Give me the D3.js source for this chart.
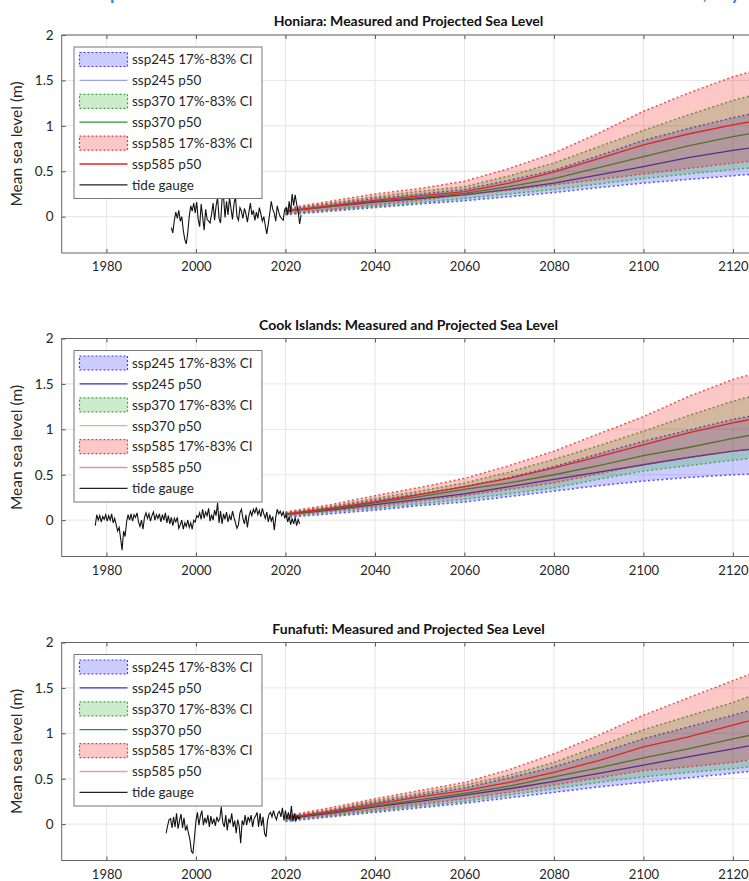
<!DOCTYPE html>
<html><head><meta charset="utf-8">
<script src="https://cdn.jsdelivr.net/npm/d3@7"></script>
<style>body{margin:0;overflow:hidden;background:#fff}</style>
</head><body>
<svg id="c" width="749" height="881"></svg>
<script>
// ---------------- DATA ----------------
const titles = ["Honiara: Measured and Projected Sea Level",
                "Cook Islands: Measured and Projected Sea Level",
                "Funafuti: Measured and Projected Sea Level"];
const headerText = "Sea level past records and future rise at three island locations, by";
const legendLabels = ["ssp245 17%-83% CI","ssp245 p50","ssp370 17%-83% CI","ssp370 p50",
                      "ssp585 17%-83% CI","ssp585 p50","tide gauge"];
const xTickValues = [1980,2000,2020,2040,2060,2080,2100,2120];
const yTickValues = [0,0.5,1,1.5,2];
const yTickLabels = ["0","0.5","1","1.5","2"];
const yAxisLabel = "Mean sea level (m)";

const projYears = [2020,2030,2040,2050,2060,2070,2080,2090,2100,2110,2120,2130];

// Honiara
const hon245lo  = [0.02,0.06,0.10,0.14,0.175,0.22,0.265,0.32,0.37,0.41,0.45,0.49];
const hon245p50 = [0.06,0.11,0.16,0.20,0.24,0.30,0.37,0.46,0.55,0.65,0.73,0.80];
const hon245hi  = [0.08,0.14,0.20,0.25,0.30,0.40,0.51,0.67,0.84,0.97,1.09,1.19];
const hon370lo  = [0.03,0.07,0.11,0.155,0.20,0.25,0.30,0.36,0.42,0.47,0.52,0.56];
const hon370p50 = [0.06,0.11,0.17,0.21,0.256,0.33,0.42,0.54,0.66,0.78,0.88,0.97];
const hon370hi  = [0.08,0.15,0.22,0.28,0.33,0.45,0.59,0.77,0.95,1.12,1.28,1.41];
const hon585lo  = [0.04,0.08,0.13,0.18,0.24,0.29,0.35,0.41,0.47,0.53,0.59,0.64];
const hon585p50 = [0.06,0.12,0.18,0.23,0.275,0.37,0.49,0.64,0.79,0.91,1.01,1.10];
const hon585hi  = [0.09,0.17,0.25,0.31,0.39,0.53,0.70,0.92,1.16,1.36,1.54,1.68];

// Cook Islands
const cook245lo  = [0.03,0.07,0.11,0.16,0.20,0.26,0.32,0.38,0.43,0.47,0.50,0.52];
const cook245p50 = [0.06,0.11,0.17,0.23,0.29,0.37,0.45,0.53,0.61,0.69,0.76,0.81];
const cook245hi  = [0.08,0.14,0.22,0.29,0.37,0.47,0.59,0.73,0.87,0.99,1.11,1.20];
const cook370lo  = [0.04,0.09,0.13,0.18,0.23,0.29,0.355,0.45,0.54,0.60,0.66,0.71];
const cook370p50 = [0.06,0.12,0.19,0.26,0.34,0.41,0.50,0.60,0.71,0.80,0.90,0.99];
const cook370hi  = [0.08,0.15,0.24,0.32,0.41,0.53,0.67,0.82,0.98,1.15,1.31,1.44];
const cook585lo  = [0.05,0.10,0.15,0.21,0.27,0.34,0.41,0.51,0.61,0.69,0.76,0.82];
const cook585p50 = [0.07,0.13,0.20,0.28,0.37,0.46,0.575,0.70,0.83,0.96,1.07,1.17];
const cook585hi  = [0.09,0.17,0.27,0.36,0.46,0.60,0.76,0.95,1.14,1.36,1.55,1.68];

// Funafuti
const fun245lo  = [0.03,0.08,0.13,0.18,0.23,0.29,0.35,0.41,0.46,0.51,0.56,0.62];
const fun245p50 = [0.06,0.12,0.19,0.25,0.32,0.39,0.47,0.56,0.65,0.74,0.83,0.92];
const fun245hi  = [0.08,0.15,0.24,0.32,0.40,0.51,0.63,0.78,0.94,1.07,1.20,1.34];
const fun370lo  = [0.04,0.09,0.14,0.20,0.25,0.32,0.39,0.46,0.52,0.57,0.61,0.67];
const fun370p50 = [0.07,0.13,0.20,0.27,0.34,0.42,0.52,0.62,0.73,0.83,0.94,1.04];
const fun370hi  = [0.08,0.16,0.26,0.34,0.43,0.54,0.68,0.86,1.04,1.19,1.34,1.52];
const fun585lo  = [0.05,0.10,0.16,0.22,0.28,0.35,0.43,0.51,0.59,0.63,0.68,0.75];
const fun585p50 = [0.07,0.14,0.22,0.30,0.37,0.46,0.57,0.70,0.85,0.96,1.09,1.22];
const fun585hi  = [0.09,0.18,0.28,0.37,0.46,0.60,0.775,0.98,1.20,1.39,1.58,1.77];

// Tide gauges (one value every 4 months)
const tideStep = 1/3;
const honTideStart = 1994.5;
const honTide = [-0.12,-0.18,-0.04,0.05,-0.02,0.07, -0.05,0.00,-0.15,-0.25,-0.30,-0.18,
  0.00,0.12,0.06,0.15,0.04,0.16, -0.03,-0.11,0.14,0.00,-0.15,0.08,
  -0.03,-0.05,-0.07,0.03,0.15,-0.04, 0.12,0.21,-0.02,-0.07,0.19,0.22,
  -0.01,0.17,0.02,0.21,0.09,-0.03, 0.14,0.22,0.00,-0.04,0.10,0.06,
  -0.02,0.09,0.03,-0.06,0.05,0.15, 0.02,0.07,-0.04,0.05,-0.02,0.10,
  0.03,-0.05,0.00,-0.10,-0.19,-0.08, 0.04,0.17,0.08,0.04,-0.05,0.12,
  0.05,0.00,-0.02,-0.04,0.08,0.10, 0.02,0.17,0.05,0.25,0.12,0.24,
  0.14,0.06,-0.08,0.02];
const cookTideStart = 1977.5;
const cookTide = [-0.06,0.06,0.00, 0.05,-0.02,0.04, 0.01,0.06,-0.01, 0.05,0.00,0.07,
  -0.03,0.02,-0.05, -0.12,-0.08,-0.20, -0.33,-0.12,-0.18, -0.02,0.06,0.00,
  0.07,-0.01,0.06, 0.03,0.08,-0.02, -0.07,0.00,-0.10, 0.03,0.08,0.02,
  0.07,-0.01,0.05, 0.09,0.00,0.06, 0.02,0.07,-0.02, 0.06,0.00,0.08,
  -0.03,0.05,-0.04, 0.03,-0.06,0.02, -0.02,0.03,-0.09, -0.05,0.00,-0.10,
  -0.03,-0.07,0.00, -0.08,-0.03,-0.10, 0.00,-0.02,0.05, 0.03,0.08,0.01,
  0.12,0.02,0.09, 0.05,0.13,-0.01, 0.06,0.00,0.11, 0.05,0.19,-0.03,
  0.10,-0.04,0.07, 0.01,0.09,-0.02, 0.05,0.00,0.10, 0.03,-0.03,-0.09,
  -0.05,0.08,0.12, 0.02,-0.04,0.06, -0.08,0.04,0.10, 0.05,0.12,0.08,
  0.14,0.06,0.11, 0.04,0.13,0.07, 0.02,0.09,-0.02, 0.06,-0.01,0.04,
  -0.11,0.03,0.12, 0.07,0.10,0.05, 0.09,0.03,0.06, -0.02,0.04,-0.05,
  0.02,-0.04,0.03, -0.06,0.01,-0.04];
const funTideStart = 1993.33;
const funTide = [-0.10,-0.02,0.05, 0.06,-0.04,0.08, -0.03,0.12,-0.05, 0.04,0.11,-0.04,
  0.07,-0.07,-0.02, -0.10,-0.17,-0.30, -0.32,-0.15,0.03, 0.13,-0.01,0.09,
  0.15,-0.01,0.07, 0.01,0.10,-0.03, 0.09,0.00,0.06, -0.02,0.08,0.03,
  0.06,0.19,0.02, -0.03,0.10,-0.07, 0.06,0.01,0.12, -0.03,0.04,-0.10,
  0.05,-0.02,-0.21, 0.04,-0.01,0.10, -0.01,0.08,0.03, 0.10,-0.03,0.06,
  0.09,0.13,-0.03, 0.12,-0.02,0.08, -0.10,-0.14,0.04, 0.11,0.13,0.08,
  0.15,0.09,0.05, 0.12,0.14,0.08, 0.18,0.04,0.15, 0.06,0.13,0.05,
  0.20,0.03,0.12, 0.04,0.09,0.06, 0.08];

// ---------------- LAYOUT / STYLE ----------------
const W = 749, H = 881;
const plotLeft = 61.7, plotRight = 755.3, plotH = 218;
const panelTops = [35, 338.5, 642.5];
const xDomain = [1970, 2125], yDomain = [-0.4, 2];
const font = "Lato, 'Open Sans', sans-serif";
const scen = [
  {fill:"rgb(0,0,255)", fillOp:0.2, edge:"#3a3aff", line:"#2b2bdc"},
  {fill:"rgb(0,160,0)", fillOp:0.2, edge:"#3aa63a", line:"#2f8f2f"},
  {fill:"rgb(235,0,0)", fillOp:0.22, edge:"#e23a3a", line:"#e02424"}
];
const legendLineOpacity = [[0.45,1,1],[1,0.45,0.5],[1,1,0.45]];

const panels = [
  {title:titles[0], tideStart:honTideStart, tide:honTide,
   lo:[hon245lo,hon370lo,hon585lo], p50:[hon245p50,hon370p50,hon585p50], hi:[hon245hi,hon370hi,hon585hi]},
  {title:titles[1], tideStart:cookTideStart, tide:cookTide,
   lo:[cook245lo,cook370lo,cook585lo], p50:[cook245p50,cook370p50,cook585p50], hi:[cook245hi,cook370hi,cook585hi]},
  {title:titles[2], tideStart:funTideStart, tide:funTide,
   lo:[fun245lo,fun370lo,fun585lo], p50:[fun245p50,fun370p50,fun585p50], hi:[fun245hi,fun370hi,fun585hi]}
];

const svg = d3.select("#c");
svg.append("rect").attr("width",W).attr("height",H).attr("fill","#fff");

// header text (cut at top of the picture, as in the reference)
svg.append("text").attr("x",2).attr("y",-1).attr("font-family",font).attr("font-size",24)
  .attr("textLength",740).attr("lengthAdjust","spacing")
  .attr("fill","#2b82c4").text(headerText);

const x = d3.scaleLinear().domain(xDomain).range([plotLeft, plotRight]);

panels.forEach((p, pi) => {
  const top = panelTops[pi];
  const y = d3.scaleLinear().domain(yDomain).range([top + plotH, top]);
  const g = svg.append("g");
  const clipId = "clip" + pi;
  g.append("clipPath").attr("id", clipId).append("rect")
    .attr("x", plotLeft).attr("y", top).attr("width", plotRight - plotLeft).attr("height", plotH);

  // grid
  const grid = g.append("g").attr("stroke","#e6e6e6").attr("stroke-width",1);
  xTickValues.forEach(v => grid.append("line").attr("x1",x(v)).attr("x2",x(v)).attr("y1",top).attr("y2",top+plotH));
  yTickValues.forEach(v => grid.append("line").attr("x1",plotLeft).attr("x2",plotRight).attr("y1",y(v)).attr("y2",y(v)));

  // data
  const dg = g.append("g").attr("clip-path", `url(#${clipId})`);
  const area = d3.area().x((d,i)=>x(projYears[i])).y0(d=>y(d[0])).y1(d=>y(d[1]));
  const line = d3.line().x((d,i)=>x(projYears[i])).y(d=>y(d));
  for (let s = 0; s < 3; s++) {
    const band = p.lo[s].map((v,i)=>[v, p.hi[s][i]]);
    dg.append("path").attr("d", area(band)).attr("fill", scen[s].fill).attr("fill-opacity", scen[s].fillOp).attr("stroke","none");
    [p.lo[s], p.hi[s]].forEach(arr => {
      dg.append("path").attr("d", line(arr)).attr("fill","none").attr("stroke", scen[s].edge)
        .attr("stroke-width",1.5).attr("stroke-dasharray","2,2.5").attr("stroke-opacity",0.85);
    });
    dg.append("path").attr("d", line(p.p50[s])).attr("fill","none").attr("stroke", scen[s].line).attr("stroke-width",1.3);
  }
  const tLine = d3.line().x((d,i)=>x(p.tideStart + i*tideStep)).y(d=>y(d));
  dg.append("path").attr("d", tLine(p.tide)).attr("fill","none").attr("stroke","#111").attr("stroke-width",1.1);

  // axes
  const axStyle = (sel, fs) => { sel.select(".domain").remove();
    sel.selectAll("line").attr("stroke","#555");
    sel.selectAll("text").attr("fill","#262626").attr("font-family",font).attr("font-size",fs); };
  g.append("g").attr("transform",`translate(0,${top+plotH})`)
    .call(d3.axisBottom(x).tickValues(xTickValues).tickSize(-4).tickPadding(9).tickFormat(d3.format("d")))
    .call(axStyle, 13);
  g.append("g").attr("transform",`translate(0,${top})`)
    .call(d3.axisTop(x).tickValues(xTickValues).tickSize(-4).tickFormat(""))
    .call(axStyle, 13);
  g.append("g").attr("transform",`translate(${plotLeft},0)`)
    .call(d3.axisLeft(y).tickValues(yTickValues).tickSize(-4).tickPadding(8).tickFormat((d,i)=>yTickLabels[i]))
    .call(axStyle, 13.5);
  g.append("rect").attr("x",plotLeft).attr("y",top).attr("width",plotRight-plotLeft).attr("height",plotH)
    .attr("fill","none").attr("stroke","#666").attr("stroke-width",1);

  // title
  g.append("text").attr("x",(plotLeft+plotRight)/2).attr("y",top-9).attr("text-anchor","middle")
    .attr("font-family",font).attr("font-weight","bold").attr("font-size",14).attr("fill","#111").text(p.title);
  // y label
  g.append("text").attr("transform",`translate(22,${top+plotH/2}) rotate(-90)`).attr("text-anchor","middle")
    .attr("font-family",font).attr("font-size",15.5).attr("fill","#262626").text(yAxisLabel);

  // legend
  const lg = g.append("g").attr("transform",`translate(74,${top+12})`);
  lg.append("rect").attr("width",188).attr("height",151.5).attr("fill","#fff").attr("stroke","#777").attr("stroke-width",1);
  legendLabels.forEach((lab, k) => {
    const cy = 12.5 + k*20.9;
    if (k < 6) {
      const s = Math.floor(k/2);
      if (k % 2 === 0) {
        lg.append("rect").attr("x",5.5).attr("y",cy-7).attr("width",48).attr("height",14)
          .attr("fill",scen[s].fill).attr("fill-opacity",scen[s].fillOp)
          .attr("stroke",scen[s].edge).attr("stroke-width",1.2).attr("stroke-dasharray","2,2");
      } else {
        lg.append("line").attr("x1",5.5).attr("x2",53.5).attr("y1",cy).attr("y2",cy)
          .attr("stroke",scen[s].line).attr("stroke-width",1.3).attr("stroke-opacity",legendLineOpacity[pi][s]);
      }
    } else {
      lg.append("line").attr("x1",5.5).attr("x2",53.5).attr("y1",cy).attr("y2",cy).attr("stroke","#222").attr("stroke-width",1.2);
    }
    lg.append("text").attr("x",58).attr("y",cy+4.8).attr("font-family",font).attr("font-size",13.5)
      .attr("fill","#262626").text(lab);
  });
});
</script>
</body></html>
